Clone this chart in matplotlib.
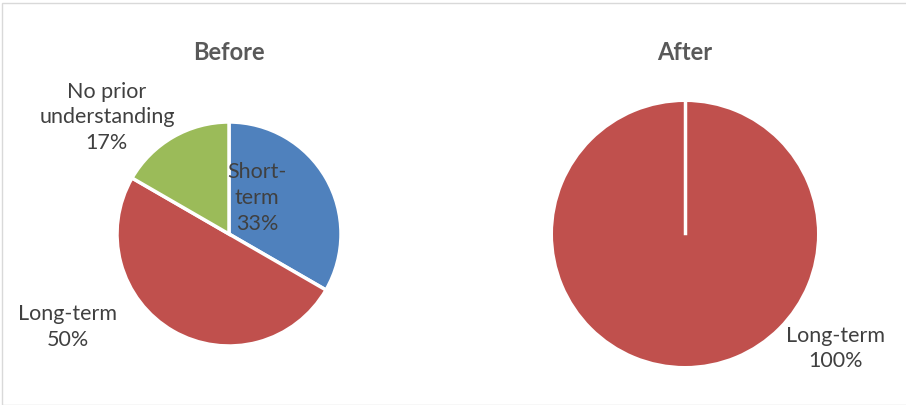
import matplotlib.pyplot as plt
from matplotlib.patches import Rectangle

plt.rcParams['font.family'] = ['Lato', 'DejaVu Sans']

before_labels = ["Short-\nterm", "Long-term", "No prior\nunderstanding"]
before_values = [2, 3, 1]
after_labels = ["Long-term"]
after_values = [1]

blue = "#4F81BD"
red = "#C0504D"
green = "#9BBB59"
text_col = "#404040"
title_col = "#595959"

W, H = 906, 406


def pie_axes(fig, cx, cy, r):
    # place a square axes (pixel centre / radius) so the pie fills it
    ax = fig.add_axes([(cx - r) / W, 1 - (cy + r) / H, 2 * r / W, 2 * r / H])
    return ax


def finish(ax):
    ax.set_xlim(-1, 1)
    ax.set_ylim(-1, 1)
    ax.set_aspect("equal")
    ax.axis("off")


def draw_labels(ax, labels, values, offsets):
    total = sum(values)
    for lab, v, (dx, dy) in zip(labels, values, offsets):
        ax.text(dx, dy, f"{lab}\n{v / total:.0%}", ha="center", va="center",
                fontsize=15.5, color=text_col, linespacing=1.35)


fig = plt.figure(figsize=(W / 100, H / 100), dpi=100)
fig.patches.append(Rectangle((2 / W, 0), 1, 1 - 4 / H, transform=fig.transFigure,
                             fill=False, edgecolor="#d9d9d9", linewidth=1))

# Before
ax1 = pie_axes(fig, 229, 235, 112)
w1, _ = ax1.pie(before_values, colors=[blue, red, green], startangle=90,
                counterclock=False, radius=1,
                wedgeprops=dict(edgecolor="white", linewidth=2.5))
finish(ax1)
draw_labels(ax1, before_labels, before_values,
            [(0.25, 0.33), (-1.44, -0.82), (-1.09, 1.05)])
fig.text(229 / W, 1 - 53 / H, "Before", ha="center", va="center",
         fontsize=17, fontweight="bold", color=title_col)

# After
ax2 = pie_axes(fig, 685, 235, 132)
w2, _ = ax2.pie(after_values, colors=[red], startangle=90,
                counterclock=False, radius=1)
finish(ax2)
c = w2[0].center
ax2.plot([c[0], c[0]], [c[1] + 0.01, c[1] + w2[0].r], color="white", lw=2.5)
draw_labels(ax2, after_labels, after_values, [(1.14, -0.86)])
fig.text(685 / W, 1 - 53 / H, "After", ha="center", va="center",
         fontsize=17, fontweight="bold", color=title_col)

fig.savefig("out.png", dpi=100)
